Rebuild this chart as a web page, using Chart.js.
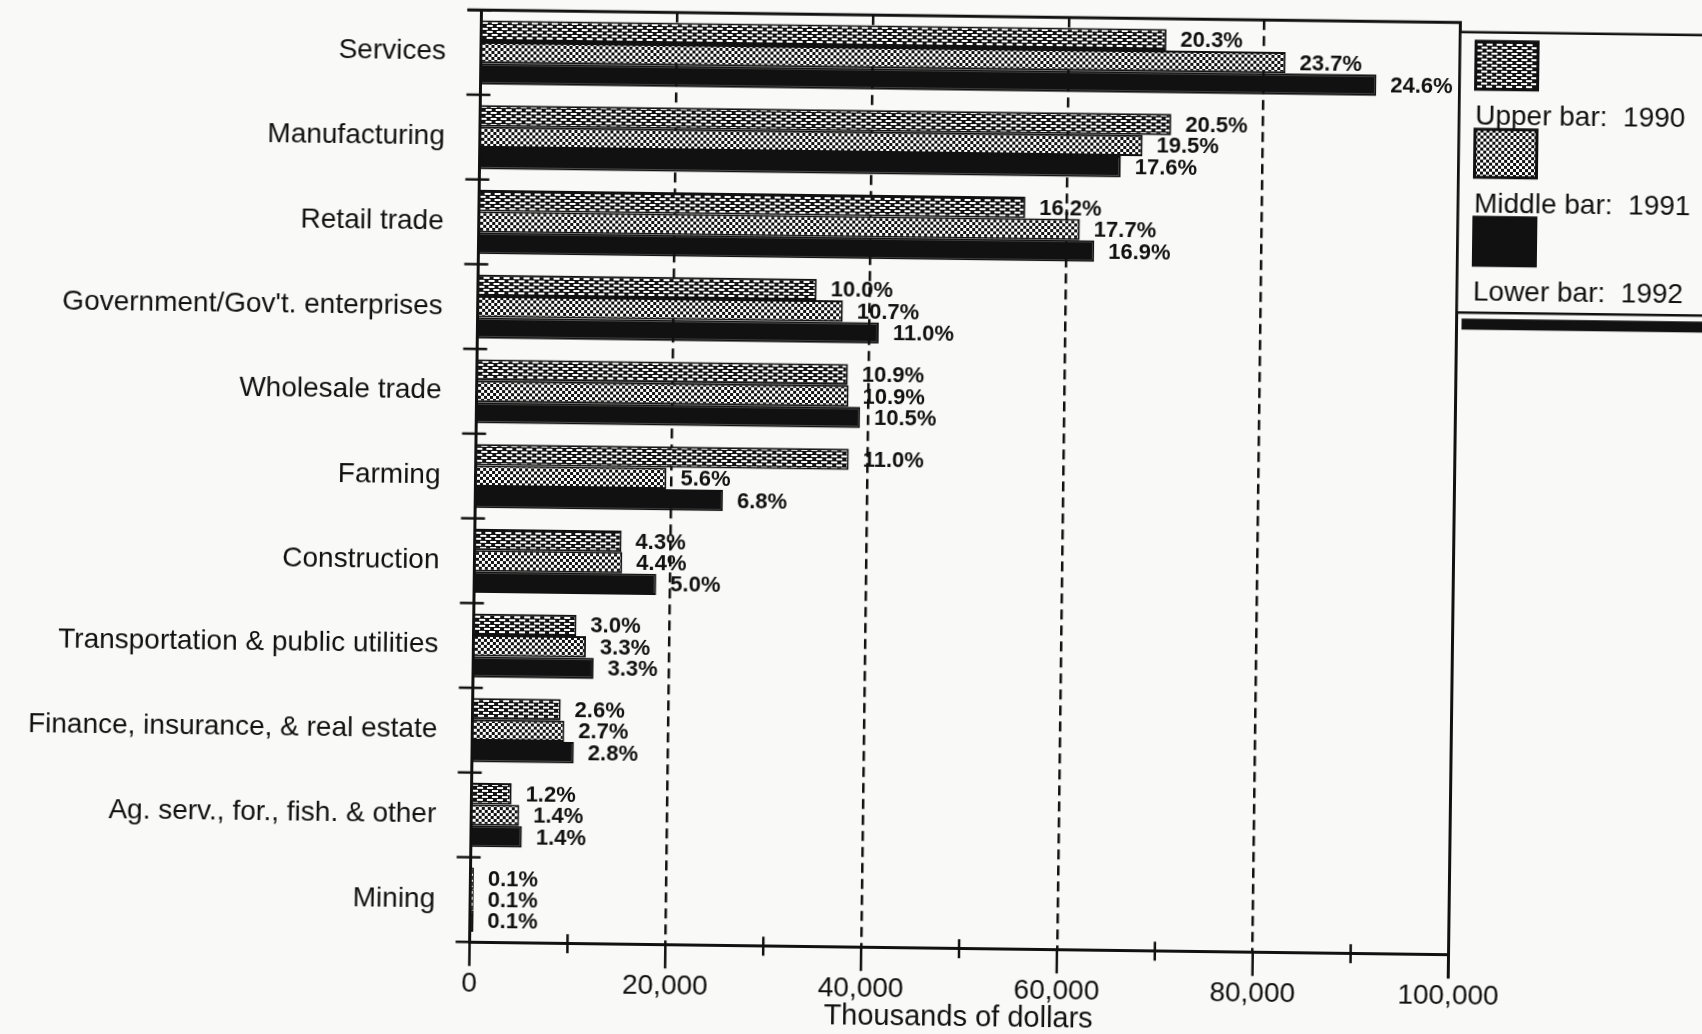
<!DOCTYPE html>
<html>
<head>
<meta charset="utf-8">
<script src="https://cdn.jsdelivr.net/npm/chart.js@4/dist/chart.umd.min.js"></script>
<style>
  html, body { margin: 0; padding: 0; background: #f9f9f7; overflow: hidden; }
  #wrap {
    position: absolute; left: 0; top: 0; width: 1702px; height: 1034px;
    transform: rotate(0.73deg); transform-origin: 965px 482px;
  }
  canvas { display: block; }
</style>
</head>
<body>
<div id="wrap"><canvas id="c" width="1702" height="1034"></canvas></div>
<script>
// Earnings by industry, thousands of dollars
const industries = [
  'Services',
  'Manufacturing',
  'Retail trade',
  "Government/Gov't. enterprises",
  'Wholesale trade',
  'Farming',
  'Construction',
  'Transportation & public utilities',
  'Finance, insurance, & real estate',
  'Ag. serv., for., fish. & other',
  'Mining'
];
const earnings1990 = [70000, 70600, 55800, 34600, 37900, 38100, 15000, 10500, 9000, 4100, 350];
const earnings1991 = [82200, 67700, 61400, 37300, 38000, 19500, 15100, 11500, 9400, 4900, 350];
const earnings1992 = [91500, 65500, 62900, 41000, 39200, 25300, 18600, 12300, 10400, 5200, 370];

// Share of total earnings, printed beside each bar
const share1990 = ['20.3%', '20.5%', '16.2%', '10.0%', '10.9%', '11.0%', '4.3%', '3.0%', '2.6%', '1.2%', '0.1%'];
const share1991 = ['23.7%', '19.5%', '17.7%', '10.7%', '10.9%', '5.6%', '4.4%', '3.3%', '2.7%', '1.4%', '0.1%'];
const share1992 = ['24.6%', '17.6%', '16.9%', '11.0%', '10.5%', '6.8%', '5.0%', '3.3%', '2.8%', '1.4%', '0.1%'];

const legendLabels = ['Upper bar:  1990', 'Middle bar:  1991', 'Lower bar:  1992'];
const tickLabels = ['0', '20,000', '40,000', '60,000', '80,000', '100,000'];
const axisTitle = 'Thousands of dollars';

const INK = '#111111';
const PAPER = '#f9f9f7';
const FONT = '"Liberation Sans", Arial, Helvetica, sans-serif';

const canvas = document.getElementById('c');
const ctx = canvas.getContext('2d');

function makePattern(w, h, draw) {
  const tile = document.createElement('canvas');
  tile.width = w; tile.height = h;
  const g = tile.getContext('2d');
  draw(g);
  return ctx.createPattern(tile, 'repeat');
}

// brick-like rows of white dashes on black
const brickFill = makePattern(10, 6, g => {
  g.fillStyle = INK; g.fillRect(0, 0, 10, 6);
  g.fillStyle = '#ffffff';
  g.fillRect(1, 1, 6, 2);
  g.fillRect(6, 4, 4, 2);
  g.fillRect(0, 4, 2, 2);
});
// fine checkerboard
const checkFill = makePattern(6, 6, g => {
  g.fillStyle = INK; g.fillRect(0, 0, 6, 6);
  g.fillStyle = '#ffffff';
  g.fillRect(0, 0, 3, 3);
  g.fillRect(3, 3, 3, 3);
});

// Frame: top edge, right edge, category boundary ticks, value-axis ticks
const framePlugin = {
  id: 'frame',
  afterDatasetsDraw(chart) {
    const { ctx, chartArea: a, scales: { x, y } } = chart;
    const line = (x1, y1, x2, y2) => { ctx.beginPath(); ctx.moveTo(x1, y1); ctx.lineTo(x2, y2); ctx.stroke(); };
    ctx.save();
    ctx.strokeStyle = INK;
    ctx.lineCap = 'butt';
    ctx.lineWidth = 3;
    line(a.left - 14, a.top, a.right + 1.5, a.top);
    line(a.right, a.top, a.right, a.bottom + 24);
    ctx.lineWidth = 2.5;
    for (let i = 0; i <= industries.length; i++) {
      const py = y.getPixelForValue(i - 0.5);
      line(a.left - 14, py, a.left + 10, py);
    }
    x.ticks.forEach(t => {
      const px = x.getPixelForValue(t.value);
      if (t.value % 20000 === 0) line(px, a.bottom, px, a.bottom + 24);
      else line(px, a.bottom - 9, px, a.bottom + 10);
    });
    ctx.restore();
  }
};

// Percentage share written to the right of each bar
const shareLabelPlugin = {
  id: 'shareLabels',
  afterDatasetsDraw(chart) {
    const { ctx } = chart;
    ctx.save();
    ctx.font = 'bold 22px ' + FONT;
    ctx.fillStyle = INK;
    ctx.textAlign = 'left';
    ctx.textBaseline = 'middle';
    chart.data.datasets.forEach((ds, di) => {
      chart.getDatasetMeta(di).data.forEach((bar, i) => {
        ctx.fillText(ds.shares[i], bar.x + 14, bar.y + 1);
      });
    });
    ctx.restore();
  }
};

// Boxed key with a drop shadow: swatch above each caption
const keyPlugin = {
  id: 'keyBox',
  afterDraw(chart) {
    const { ctx, chartArea: a } = chart;
    const left = a.right, top = a.top + 9.5, bottom = a.top + 290, right = chart.width + 60;
    ctx.save();
    ctx.fillStyle = INK;
    ctx.fillRect(left + 5, bottom + 6, right - left, 11);
    ctx.fillStyle = PAPER;
    ctx.fillRect(left, top, right - left, bottom - top);
    ctx.strokeStyle = INK;
    ctx.lineWidth = 2.5;
    ctx.strokeRect(left, top, right - left, bottom - top);
    ctx.font = '28px ' + FONT;
    ctx.textAlign = 'left';
    ctx.textBaseline = 'alphabetic';
    chart.data.datasets.forEach((ds, i) => {
      const sx = left + 16, sy = top + 9 + i * 88;
      ctx.fillStyle = ds.backgroundColor;
      ctx.fillRect(sx, sy, 62, 48);
      ctx.lineWidth = 3;
      ctx.strokeRect(sx, sy, 62, 48);
      ctx.fillStyle = INK;
      ctx.fillText(legendLabels[i], left + 16, top + 92 + i * 88);
    });
    ctx.restore();
  }
};

new Chart(ctx, {
  type: 'bar',
  data: {
    labels: industries,
    datasets: [
      { label: '1990', data: earnings1990, shares: share1990, backgroundColor: brickFill },
      { label: '1991', data: earnings1991, shares: share1991, backgroundColor: checkFill },
      { label: '1992', data: earnings1992, shares: share1992, backgroundColor: INK }
    ]
  },
  options: {
    indexAxis: 'y',
    responsive: false,
    animation: false,
    devicePixelRatio: 1,
    layout: { padding: { top: 16.25, right: 247.5, bottom: 0, left: 0 } },
    plugins: { legend: { display: false }, tooltip: { enabled: false } },
    datasets: {
      bar: { categoryPercentage: 0.757, barPercentage: 1, borderColor: INK, borderWidth: 2 }
    },
    scales: {
      x: {
        min: 0,
        max: 100000,
        ticks: {
          stepSize: 10000,
          autoSkip: false,
          maxRotation: 0,
          padding: 25,
          color: INK,
          font: { family: FONT, size: 28 },
          callback: v => (v % 20000 === 0 ? tickLabels[v / 20000] : '')
        },
        grid: {
          drawTicks: false,
          lineWidth: 2.5,
          color: c => (c.tick && c.tick.value % 20000 === 0 && c.tick.value > 0 && c.tick.value < 100000)
            ? INK : 'rgba(0,0,0,0)'
        },
        border: { display: true, color: INK, width: 3, dash: [10, 6] },
        title: {
          display: true,
          text: axisTitle,
          color: INK,
          font: { family: FONT, size: 29, lineHeight: 1 },
          padding: { top: 0, bottom: 2 }
        },
        afterFit: s => { s.height = 85.75; s.paddingLeft = 0; s.paddingRight = 0; }
      },
      y: {
        ticks: { color: INK, font: { family: FONT, size: 28 }, padding: 35, autoSkip: false },
        grid: { display: false, drawTicks: false },
        border: { display: true, color: INK, width: 3 },
        afterFit: s => { s.width = 475.5; s.paddingTop = 0; s.paddingBottom = 0; }
      }
    }
  },
  plugins: [framePlugin, shareLabelPlugin, keyPlugin]
});
</script>
</body>
</html>
